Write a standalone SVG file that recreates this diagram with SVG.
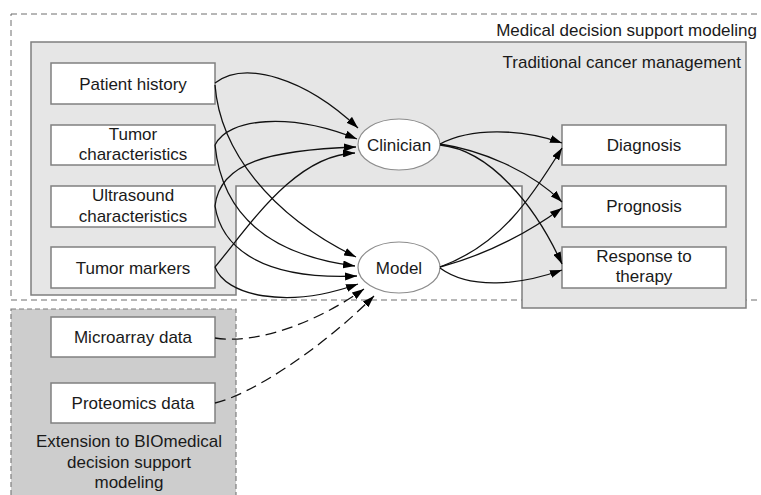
<svg xmlns="http://www.w3.org/2000/svg" width="761" height="495" viewBox="0 0 761 495">
  <style>
    text { font-family: "Liberation Sans", Arial, sans-serif; font-size: 17px; fill: #1a1a1a; }
    .c { text-anchor: middle; }
    .box { fill: #ffffff; stroke: #808080; stroke-width: 1.5; }
    .ell { fill: #ffffff; stroke: #8c8c8c; stroke-width: 1.2; }
    .edge { fill: none; stroke: #111111; stroke-width: 1.3; marker-end: url(#arr); }
    .dash { stroke-dasharray: 11,6; }
  </style>
  <defs>
    <marker id="arr" viewBox="0 0 12 8" refX="12" refY="4" markerWidth="12" markerHeight="8" markerUnits="userSpaceOnUse" orient="auto">
      <path d="M0,0 L12,4 L0,8 z" fill="#000000"/>
    </marker>
  </defs>

  <g id="medical-decision-support">
    <rect x="11" y="14" width="760" height="286" fill="none" stroke="#6e6e6e" stroke-width="1" stroke-dasharray="6,4"/>
    <text x="757" y="36" style="text-anchor:end">Medical decision support modeling</text>
  </g>

  <g id="traditional-cancer-management">
    <path d="M31,42 L746,42 L746,308 L522,308 L522,186 L236,186 L236,295 L31,295 Z" fill="#e6e6e6" stroke="#7f7f7f" stroke-width="1.5"/>
    <text x="741" y="68" style="text-anchor:end">Traditional cancer management</text>
  </g>

  <g id="biomedical-extension">
    <rect x="11" y="309" width="225" height="200" fill="#cdcdcd" stroke="#7f7f7f" stroke-width="1.2" stroke-dasharray="5,3"/>
    <text class="c" x="129" y="447">Extension to BIOmedical</text>
    <text class="c" x="129" y="467.5">decision support</text>
    <text class="c" x="129" y="488">modeling</text>
  </g>

  <g id="patient-history">
    <rect class="box" x="51" y="63" width="164" height="41"/>
    <text class="c" x="133" y="89.5">Patient history</text>
  </g>
  <g id="tumor-characteristics">
    <rect class="box" x="51" y="125" width="164" height="40"/>
    <text class="c" x="133" y="139.5">Tumor</text>
    <text class="c" x="133" y="160">characteristics</text>
  </g>
  <g id="ultrasound-characteristics">
    <rect class="box" x="51" y="186" width="164" height="41"/>
    <text class="c" x="133" y="201">Ultrasound</text>
    <text class="c" x="133" y="221.5">characteristics</text>
  </g>
  <g id="tumor-markers">
    <rect class="box" x="51" y="247" width="164" height="41"/>
    <text class="c" x="133" y="273.5">Tumor markers</text>
  </g>
  <g id="microarray-data">
    <rect class="box" x="51" y="317" width="164" height="40"/>
    <text class="c" x="133" y="343">Microarray data</text>
  </g>
  <g id="proteomics-data">
    <rect class="box" x="51" y="383" width="164" height="40"/>
    <text class="c" x="133" y="409">Proteomics data</text>
  </g>

  <g id="clinician">
    <ellipse class="ell" cx="399" cy="144.5" rx="41" ry="25.5"/>
    <text class="c" x="399" y="150.5">Clinician</text>
  </g>
  <g id="model">
    <ellipse class="ell" cx="399" cy="267.5" rx="41" ry="25.5"/>
    <text class="c" x="399" y="273.5">Model</text>
  </g>

  <g id="diagnosis">
    <rect class="box" x="562" y="125" width="164" height="40"/>
    <text class="c" x="644" y="151">Diagnosis</text>
  </g>
  <g id="prognosis">
    <rect class="box" x="562" y="186" width="164" height="41"/>
    <text class="c" x="644" y="212">Prognosis</text>
  </g>
  <g id="response-to-therapy">
    <rect class="box" x="562" y="247" width="164" height="41"/>
    <text class="c" x="644" y="261.5">Response to</text>
    <text class="c" x="644" y="282">therapy</text>
  </g>

  <g id="connectors">
    <path class="edge" d="M215,83 C245,60 305,78 358,128"/>
    <path class="edge" d="M215,145 C228,118 290,112 357,139"/>
    <path class="edge" d="M215,206 C220,162 270,150 356,147"/>
    <path class="edge" d="M215,267 C250,225 295,155 355,153"/>
    <path class="edge" d="M215,85 C220,150 270,215 356,257"/>
    <path class="edge" d="M215,145 C222,215 270,255 355,266"/>
    <path class="edge" d="M215,206 C222,250 265,280 357,276"/>
    <path class="edge" d="M215,267 C225,295 285,310 358,284"/>
    <path class="edge dash" d="M215,338 C260,345 320,320 364,289"/>
    <path class="edge dash" d="M215,403 C250,395 320,350 374,296"/>
    <path class="edge" d="M440,144 C470,128 520,128 562,143"/>
    <path class="edge" d="M440,144 C480,150 530,170 562,202"/>
    <path class="edge" d="M440,145 C490,150 535,205 562,264"/>
    <path class="edge" d="M440,267 C500,245 530,200 562,148"/>
    <path class="edge" d="M440,267 C485,255 525,235 562,208"/>
    <path class="edge" d="M440,268 C470,290 520,285 562,270"/>
  </g>
</svg>
